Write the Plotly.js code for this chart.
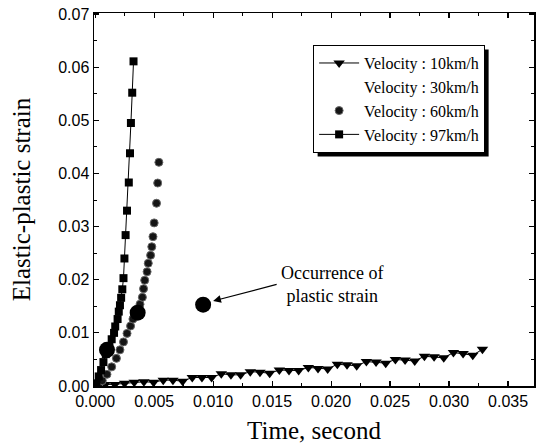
<!DOCTYPE html>
<html>
<head>
<meta charset="utf-8">
<script src="https://cdn.plot.ly/plotly-3.0.1.min.js"></script>
<style>html,body{margin:0;padding:0;background:#fff;}#chart{width:539px;height:446px;}</style>
</head>
<body>
<div id="chart"></div>
<script>
// Velocity 10 km/h
var t10 = [0.00085,0.00167,0.00249,0.00331,0.00413,0.00495,0.00577,0.00659,0.00741,0.00823,
           0.00905,0.00987,0.01069,0.01151,0.01233,0.01315,0.01397,0.01479,0.01561,0.01643,
           0.01725,0.01807,0.01889,0.01971,0.02053,0.02135,0.02217,0.02299,0.02381,0.02463,
           0.02545,0.02627,0.02709,0.02791,0.02873,0.02955,0.03037,0.03119,0.03201,0.03283];
var s10 = [0.0003,0.0003,0.0005,0.0007,0.0008,0.0007,0.0011,0.0011,0.0009,0.0016,
           0.0016,0.0016,0.0023,0.0021,0.0021,0.0027,0.0026,0.0024,0.0030,0.0029,
           0.0029,0.0035,0.0033,0.0032,0.0041,0.0040,0.0038,0.0046,0.0045,0.0043,
           0.0050,0.0049,0.0047,0.0056,0.0055,0.0053,0.0063,0.0061,0.0058,0.0069];
// Velocity 30 km/h (no visible data in the reference)
var t30 = [null];
var s30 = [null];
// Velocity 60 km/h
var t60 = [0.0003,0.0006,0.0010,0.0014,0.0018,0.0021,0.0024,0.0027,0.0030,0.0032,
           0.0038,0.0040,0.0041,0.0042,0.0044,0.0045,0.0047,0.0048,0.0049,0.0050,0.0052,0.0053,0.0054];
var s60 = [0.0002,0.0010,0.0022,0.0036,0.0052,0.0068,0.0083,0.0099,0.0113,0.0126,
           0.0154,0.0167,0.0183,0.0199,0.0215,0.0231,0.0246,0.0262,0.0281,0.0307,0.0344,0.0382,0.0421];
// Velocity 97 km/h
var t97 = [0.0001,0.0003,0.0005,0.0007,0.0009,0.0012,0.0014,0.0016,0.0017,0.0019,0.0020,0.0021,
           0.0022,0.0023,0.0024,0.00248,0.00258,0.0027,0.00285,0.00295,0.00303,0.00314,0.00325];
var s97 = [0.0005,0.0018,0.0030,0.0045,0.0060,0.0074,0.0088,0.0100,0.0112,0.0126,0.0140,0.0152,
           0.0166,0.0182,0.0203,0.0240,0.0284,0.0330,0.0383,0.0438,0.0495,0.0552,0.0611];
// Occurrence of plastic strain (large circles)
var tPlastic = [0.0010, 0.0036, 0.00915];
var sPlastic = [0.0068, 0.0138, 0.0153];

var names = ['Velocity : 10km/h','Velocity : 30km/h','Velocity : 60km/h','Velocity : 97km/h'];
var xTickVals = [0,0.005,0.01,0.015,0.02,0.025,0.03,0.035];
var yTickVals = [0,0.01,0.02,0.03,0.04,0.05,0.06,0.07];

var traces = [
  {x:t10, y:s10, name:names[0], mode:'lines+markers', type:'scatter',
   line:{color:'#000', width:1}, marker:{symbol:'triangle-down', size:10, color:'#000'}},
  {x:t30, y:s30, name:names[1], mode:'markers', type:'scatter',
   marker:{symbol:'circle', size:8, color:'rgba(0,0,0,0)'}},
  {x:t60, y:s60, name:names[2], mode:'markers', type:'scatter',
   marker:{symbol:'circle', size:8, color:'#151515', line:{color:'#666', width:1}}},
  {x:t97, y:s97, name:names[3], mode:'lines+markers', type:'scatter',
   line:{color:'#000', width:1}, marker:{symbol:'square', size:8, color:'#000'}},
  {x:tPlastic, y:sPlastic, mode:'markers', type:'scatter', showlegend:false,
   marker:{symbol:'circle', size:16, color:'#000'}}
];

var serif = 'Liberation Serif, Times New Roman, serif';
var sans = 'Liberation Sans, Arial, sans-serif';

var axisCommon = {
  showgrid:false, zeroline:false, showline:true, linecolor:'#000', linewidth:1.5,
  mirror:'allticks', ticks:'inside', ticklen:5, tickwidth:1.2, tickcolor:'#000',
  tickfont:{family:sans, size:16, color:'#000'}
};

var layout = {
  width:539, height:446,
  margin:{l:94, r:5, t:13, b:60},
  paper_bgcolor:'#fff', plot_bgcolor:'#fff',
  showlegend:true,
  xaxis: Object.assign({}, axisCommon, {
    range:[-0.0001, 0.0372], tickvals:xTickVals, tickformat:'.3f',
    minor:{dtick:0.0025, ticks:'inside', ticklen:3, tickcolor:'#000', tickwidth:1},
    title:{text:'Time, second', font:{family:serif, size:25, color:'#000'}, standoff:13}
  }),
  yaxis: Object.assign({}, axisCommon, {
    range:[0, 0.0702], tickvals:yTickVals, tickformat:'.2f',
    minor:{dtick:0.005, ticks:'inside', ticklen:3, tickcolor:'#000', tickwidth:1},
    title:{text:'Elastic-plastic strain', font:{family:serif, size:25, color:'#000'}, standoff:20}
  }),
  legend:{
    x:0.498, y:0.914, xanchor:'left', yanchor:'top',
    bgcolor:'#fff', bordercolor:'#000', borderwidth:1,
    font:{family:serif, size:16, color:'#000'}, itemwidth:40,
    tracegroupgap:0
  },
  annotations:[
    {x:0.0100, y:0.0160, ax:65, ay:-17, showarrow:true, arrowhead:2, arrowsize:1.3,
     arrowwidth:1.2, arrowcolor:'#000', text:''},
    {x:0.0201, y:0.0191, showarrow:false, align:'center',
     text:'Occurrence of<br>plastic strain', font:{family:serif, size:18, color:'#000'}}
  ]
};

Plotly.newPlot('chart', traces, layout, {displayModeBar:false, staticPlot:true}).then(function(gd){
  // drop shadow behind the legend box, sized from the rendered legend
  var bg = document.querySelector('.legend .bg');
  if (!bg) return;
  var r = bg.getBoundingClientRect();
  var c = gd.getBoundingClientRect();
  var fl = gd._fullLayout, sz = fl._size;
  function px2x(p){ return (p - c.left - sz.l) / sz.w; }
  function py2y(p){ return 1 - (p - c.top - sz.t) / sz.h; }
  var off = 4;
  Plotly.relayout(gd, {shapes:[{type:'rect', xref:'paper', yref:'paper', layer:'above',
    x0:px2x(r.left + off), x1:px2x(r.right + off), y0:py2y(r.bottom + off), y1:py2y(r.top + off),
    fillcolor:'#000', line:{width:0}}]});
});
</script>
</body>
</html>
